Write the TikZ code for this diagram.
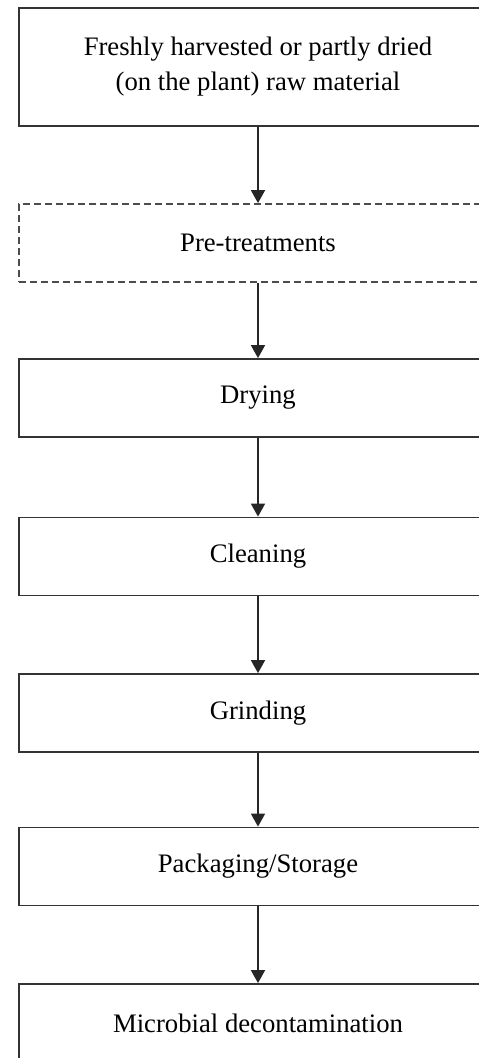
\documentclass[tikz,border=0pt]{standalone}
\usepackage{fontspec}
\setmainfont{Liberation Serif}
\usetikzlibrary{arrows.meta}
\begin{document}
\begin{tikzpicture}[x=1pt,y=1pt,
  stepbox/.style={draw=black!80, line width=1.8pt, rectangle,
    minimum width=478pt, minimum height=78pt, inner sep=0pt,
    align=center, font=\fontsize{26.7}{35}\selectfont},
  optbox/.style={stepbox, draw=black!70, dash pattern=on 7pt off 4pt},
  flow/.style={draw=black!85, line width=1.8pt,
    -{Triangle[width=14pt,length=13pt]}}]
  \useasboundingbox (0,0) rectangle (479,-1058);
  \clip (0,0) rectangle (479,-1058);

  % process steps, top to bottom
  \node[stepbox, minimum height=118pt] (raw) at (258,-67)
    {Freshly harvested or partly dried\\(on the plant) raw material};
  \node[optbox]  (pre)   at (258,-243)   {Pre-treatments};
  \node[stepbox] (dry)   at (258,-398)   {Drying};
  \node[stepbox] (clean) at (258,-556.5) {Cleaning};
  \node[stepbox] (grind) at (258,-713)   {Grinding};
  \node[stepbox] (pack)  at (258,-866.5) {Packaging/Storage};
  \node[stepbox] (micro) at (258,-1023)  {Microbial decontamination};

  % flow between steps
  \draw[flow] (raw)   -- (pre);
  \draw[flow] (pre)   -- (dry);
  \draw[flow] (dry)   -- (clean);
  \draw[flow] (clean) -- (grind);
  \draw[flow] (grind) -- (pack);
  \draw[flow] (pack)  -- (micro);
\end{tikzpicture}
\end{document}
